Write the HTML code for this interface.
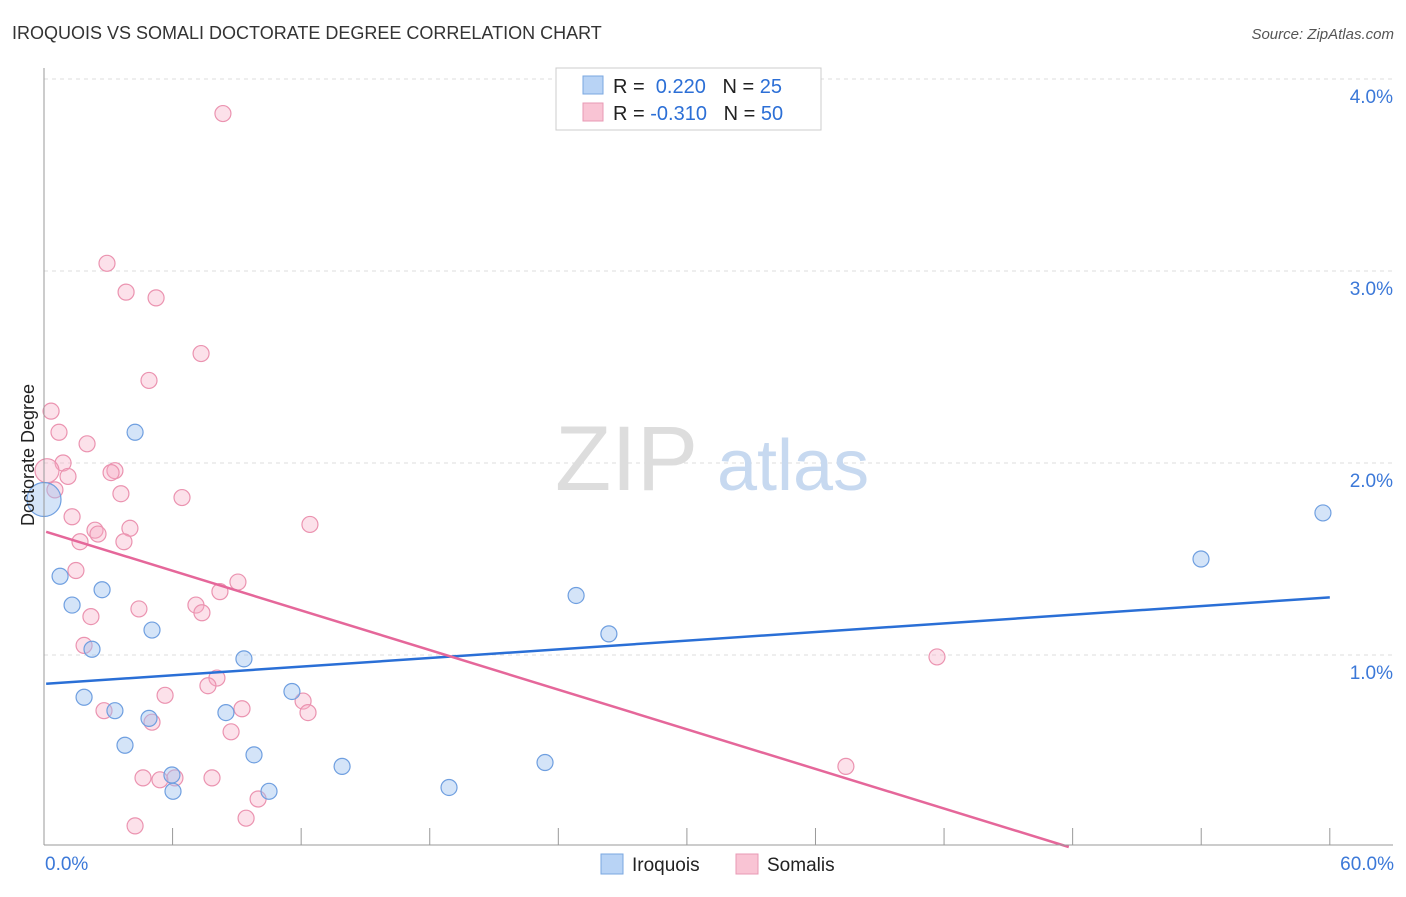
<!DOCTYPE html>
<html><head><meta charset="utf-8"><style>
body{margin:0;background:#fff;font-family:"Liberation Sans",sans-serif;}
svg text{font-family:"Liberation Sans",sans-serif;}
</style></head><body>
<svg id="chart" width="1406" height="892" xmlns="http://www.w3.org/2000/svg">
<text x="12" y="39" font-size="18" fill="#333">IROQUOIS VS SOMALI DOCTORATE DEGREE CORRELATION CHART</text>
<text x="1394" y="39" font-size="15" fill="#555" font-style="italic" text-anchor="end">Source: ZipAtlas.com</text>
<g id="grid"></g>
<g><text x="555" y="490" font-size="92" fill="#ddd" font-family="Liberation Serif">ZIP</text><text x="717" y="490" font-size="72" fill="#c7d9f0">atlas</text></g>
<g id="pts"></g>
<g id="lines"></g>
<g id="axes"></g>
<text x="34" y="455" font-size="18" fill="#222" transform="rotate(-90 34 455)" text-anchor="middle">Doctorate Degree</text>
<g>
<rect x="556" y="68" width="265" height="62" fill="#fff" stroke="#ccc"/>
<rect x="583" y="76" width="20" height="18" fill="#b8d3f5" stroke="#7aa7e0"/>
<rect x="583" y="103" width="20" height="18" fill="#f9c4d4" stroke="#e89ab4"/>
<text x="613" y="93" font-size="20" fill="#222">R = <tspan fill="#2c6fd6">&#160;0.220</tspan>&#160;&#160;&#160;N = <tspan fill="#2c6fd6">25</tspan></text>
<text x="613" y="120" font-size="20" fill="#222">R = <tspan fill="#2c6fd6">-0.310</tspan>&#160;&#160;&#160;N = <tspan fill="#2c6fd6">50</tspan></text>
</g>
<g>
<rect x="601" y="854" width="22" height="20" fill="#b8d3f5" stroke="#7aa7e0"/>
<text x="632" y="871" font-size="19" fill="#222">Iroquois</text>
<rect x="736" y="854" width="22" height="20" fill="#f9c4d4" stroke="#e89ab4"/>
<text x="767" y="871" font-size="19" fill="#222">Somalis</text>
</g>
</svg>
<script>
const iroquoisX=[0,4.25,0.75,2.71,1.31,5.04,2.24,9.33,1.87,3.31,4.90,8.49,11.57,3.78,9.80,5.97,6.02,10.50,13.91,18.90,23.38,24.83,26.36,53.99,59.68];
const iroquoisY=[1.81,2.16,1.41,1.34,1.26,1.13,1.03,0.98,0.78,0.71,0.67,0.70,0.81,0.53,0.48,0.375,0.29,0.29,0.42,0.31,0.44,1.31,1.11,1.50,1.74];
const somaliX=[8.35,2.94,3.83,5.23,7.33,4.90,0.33,0.70,2.01,0.89,0.14,3.31,3.13,1.12,0.51,3.59,6.44,1.31,12.41,2.38,4.01,2.52,1.68,3.73,1.49,9.05,8.21,7.09,4.43,2.19,7.37,1.87,8.07,7.65,5.65,2.80,9.24,12.09,12.32,5.04,8.73,41.67,37.42,4.62,5.41,6.11,7.84,9.99,9.43,4.25];
const somaliY=[3.82,3.04,2.89,2.86,2.57,2.43,2.27,2.16,2.10,2.00,1.96,1.96,1.95,1.93,1.86,1.84,1.82,1.72,1.68,1.65,1.66,1.63,1.59,1.59,1.44,1.38,1.33,1.26,1.24,1.20,1.22,1.05,0.88,0.84,0.79,0.71,0.72,0.76,0.70,0.65,0.60,0.99,0.42,0.36,0.35,0.36,0.36,0.25,0.15,0.11];
const iroquoisTrend=[0.85,1.30];
const somaliTrend=[1.645,-0.0344];
const yTicks=[1,2,3,4];
const yTickLabels=["1.0%","2.0%","3.0%","4.0%"];
const xTickLabels=["0.0%","60.0%"];
const NS="http://www.w3.org/2000/svg";
const X=v=>44+v*21.43, Y=v=>847-v*192;
function mk(t,a,p){const e=document.createElementNS(NS,t);for(const k in a)e.setAttribute(k,a[k]);p.appendChild(e);return e;}
const grid=document.getElementById('grid'),axes=document.getElementById('axes'),pts=document.getElementById('pts'),lines=document.getElementById('lines');
yTicks.forEach((t,i)=>{
 const l=mk('line',{x1:44,x2:1393,y1:Y(t),y2:Y(t),stroke:'#ddd','stroke-dasharray':'4,4'},grid);
 
 
 const tx=mk('text',{x:1393,y:Y(t)+24,'font-size':19,fill:'#3b78d8','text-anchor':'end'},axes);
 tx.textContent=yTickLabels[i];
 
 
});
const ax=mk('line',{x1:44,x2:1393,y1:845,y2:845,stroke:'#999'},axes);


const ay=mk('line',{x1:44,x2:44,y1:68,y2:845,stroke:'#999'},axes);


for(let i=0;i<=10;i++){const t=mk('line',{x1:X(i*6),x2:X(i*6),y1:828,y2:845,stroke:'#999'},axes);
 
 }
[[0,'start',45],[60,'end',1394]].forEach((d,i)=>{const t=mk('text',{x:d[2],y:870,'font-size':19,fill:'#3b78d8','text-anchor':d[1]},axes);t.textContent=xTickLabels[i];
 
 });
somaliX.forEach((x,i)=>{const c=mk('circle',{cx:X(x),cy:Y(somaliY[i]),r:i==10?12:8,fill:'rgba(245,170,195,0.35)',stroke:'#eb93b0','stroke-width':1.2},pts);
 
 });
iroquoisX.forEach((x,i)=>{const c=mk('circle',{cx:X(x),cy:Y(iroquoisY[i]),r:i==0?17:8,fill:'rgba(160,195,240,0.45)',stroke:'#6f9fe0','stroke-width':1.2},pts);
 
 });
const bl=mk('line',{x1:X(0.1),y1:Y(iroquoisTrend[0]),x2:X(60),y2:Y(iroquoisTrend[1]),stroke:'#2a6fd6','stroke-width':2.5},lines);


const xEnd=-somaliTrend[0]/somaliTrend[1];
const pl=mk('line',{x1:X(0.1),y1:Y(somaliTrend[0]+somaliTrend[1]*0.1),x2:X(xEnd),y2:Y(0),stroke:'#e5679a','stroke-width':2.5},lines);


</script>
</body></html>
